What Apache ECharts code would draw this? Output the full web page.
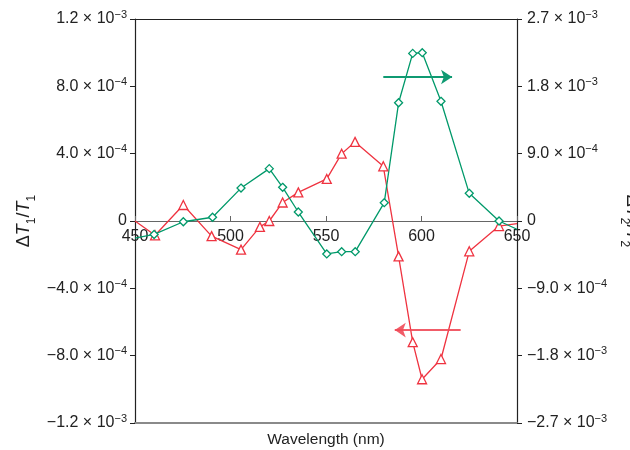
<!DOCTYPE html>
<html>
<head>
<meta charset="utf-8">
<script src="https://cdn.jsdelivr.net/npm/echarts@6/dist/echarts.min.js"></script>
<style>html,body{margin:0;padding:0;background:#fff}#c{width:630px;height:450px}</style>
</head>
<body>
<div id="c"></div>
<script>
// ---- data ----
var redX = [450, 460.5, 475.3, 490.1, 505.5, 515.4, 520.3, 527.3, 535.5, 550.4, 558.2, 565.2, 580, 588, 595.4, 600.3, 610.2, 625, 640.6, 650];
var redY = [0, -0.85e-4, 0.95e-4, -0.9e-4, -1.7e-4, -0.35e-4, 0, 1.1e-4, 1.7e-4, 2.5e-4, 4.0e-4, 4.7e-4, 3.25e-4, -2.1e-4, -7.2e-4, -9.4e-4, -8.2e-4, -1.8e-4, -0.3e-4, -0.15e-4];
var greenX = [450, 460, 475.3, 490.6, 505.5, 520.3, 527.3, 535.5, 550.4, 558.2, 565.3, 580.5, 588, 595.4, 600.4, 610.2, 625, 640.6, 650];
var greenY = [-2.3e-4, -1.8e-4, -0.1e-4, 0.5e-4, 4.4e-4, 7.0e-4, 4.5e-4, 1.2e-4, -4.4e-4, -4.1e-4, -4.1e-4, 2.45e-4, 15.8e-4, 22.4e-4, 22.5e-4, 16.0e-4, 3.7e-4, 0, -1.1e-4];
var redArrow = [[620.5, -6.48e-4], [586, -6.48e-4]];
var greenArrow = [[580, 19.25e-4], [616, 19.25e-4]];
var leftTickLabels = ['\u22121.2 \u00d7 10^\u22123', '\u22128.0 \u00d7 10^\u22124', '\u22124.0 \u00d7 10^\u22124', '0', '4.0 \u00d7 10^\u22124', '8.0 \u00d7 10^\u22124', '1.2 \u00d7 10^\u22123'];
var rightTickLabels = ['\u22122.7 \u00d7 10^\u22123', '\u22121.8 \u00d7 10^\u22123', '\u22129.0 \u00d7 10^\u22124', '0', '9.0 \u00d7 10^\u22124', '1.8 \u00d7 10^\u22123', '2.7 \u00d7 10^\u22123'];
var xTickLabels = ['450', '500', '550', '600', '650'];

// ---- styling ----
var FONT = '"Liberation Sans", Arial, sans-serif';
var NARROW = '"Liberation Sans Narrow", "Liberation Sans", Arial, sans-serif';
var RED = '#ef3340';
var GREEN = '#00996a';
var W = 630, H = 450;
var GRID = { left: 135, right: 113, top: 19, bottom: 27 };
var LMIN = -1.2e-3, LMAX = 1.2e-3;
// offset that lifts the labelled x axis from the grid bottom to the y = 0 line
var gridH = H - GRID.top - GRID.bottom;
var zeroOffset = -gridH * (0 - LMIN) / (LMAX - LMIN);

var rich = {
  b: { fontSize: 16, lineHeight: 20, fontFamily: FONT, color: '#222' },
  s: { fontSize: 11, lineHeight: 11, fontFamily: FONT, color: '#222', verticalAlign: 'top' }
};
function toRich(t) {
  var p = t.split('^');
  return p.length > 1 ? '{b|' + p[0] + '}{s|' + p[1] + '}' : '{b|' + p[0] + '}';
}
function tickFmt(labels, min, interval) {
  return function (v) {
    var i = Math.round((v - min) / interval);
    return labels[i] !== undefined ? toRich(labels[i]) : '';
  };
}
function buildData(xs, ys) {
  return xs.map(function (x, i) {
    var item = { value: [x, ys[i]] };
    if (x <= 450 || x >= 650) item.symbol = 'none';
    return item;
  });
}
var nameRich = {
  d: { fontSize: 18, fontFamily: FONT, color: '#222' },
  i: { fontSize: 18, fontFamily: FONT, fontStyle: 'italic', color: '#222' },
  s: { fontSize: 12, fontFamily: FONT, color: '#222', verticalAlign: 'bottom', lineHeight: 28 }
};

var chart = echarts.init(document.getElementById('c'), null, { renderer: 'canvas' });
chart.setOption({
  animation: false,
  backgroundColor: '#fff',
  grid: { left: GRID.left, right: GRID.right, top: GRID.top, bottom: GRID.bottom, containLabel: false, outerBoundsMode: 'none' },
  xAxis: [
    {
      type: 'value', position: 'bottom', offset: zeroOffset, min: 450, max: 650, interval: 50,
      axisLine: { onZero: false, lineStyle: { color: '#666', width: 1.2 } },
      axisTick: { inside: true, length: 5, lineStyle: { color: '#666' } },
      axisLabel: {
        margin: 8, fontSize: 16, fontFamily: FONT, color: '#222',
        formatter: function (v) { var i = Math.round((v - 450) / 50); return xTickLabels[i] || ''; }
      },
      splitLine: { show: false }
    },
    {
      type: 'value', position: 'bottom', min: 450, max: 650,
      axisLine: { onZero: false, lineStyle: { color: '#8a8a8a', width: 2 } },
      axisTick: { show: false }, axisLabel: { show: false }, splitLine: { show: false },
      name: 'Wavelength (nm)', nameLocation: 'middle', nameGap: 9,
      nameTextStyle: { fontSize: 15.5, fontFamily: NARROW, color: '#222' }
    },
    {
      type: 'value', position: 'top', min: 450, max: 650,
      axisLine: { onZero: false, lineStyle: { color: '#222', width: 1.2 } },
      axisTick: { show: false }, axisLabel: { show: false }, splitLine: { show: false }
    }
  ],
  yAxis: [
    {
      type: 'value', position: 'left', min: LMIN, max: LMAX, interval: 4e-4,
      axisLine: { show: true, onZero: false, lineStyle: { color: '#222', width: 1.2 } },
      axisTick: { show: true, inside: false, length: 5, lineStyle: { color: '#222' } },
      axisLabel: { margin: 8, rich: rich, formatter: tickFmt(leftTickLabels, LMIN, 4e-4) },
      splitLine: { show: false },
      name: '{d|\u0394}{i|T}{s|1}{d|/}{i|T}{s|1}', nameLocation: 'middle', nameGap: 97, nameMoveOverlap: false,
      nameTextStyle: { rich: nameRich }
    },
    {
      type: 'value', position: 'right', min: -2.7e-3, max: 2.7e-3, interval: 9e-4,
      axisLine: { show: true, onZero: false, lineStyle: { color: '#222', width: 1.2 } },
      axisTick: { show: true, inside: false, length: 5, lineStyle: { color: '#222' } },
      axisLabel: { margin: 10, rich: rich, formatter: tickFmt(rightTickLabels, -2.7e-3, 9e-4) },
      splitLine: { show: false },
      name: '{d|\u0394}{i|T}{s|2}{d|/}{i|T}{s|2}', nameLocation: 'middle', nameGap: 100, nameRotate: -90,
      nameTextStyle: { rich: nameRich }
    }
  ],
  series: [
    {
      type: 'line', xAxisIndex: 0, yAxisIndex: 0, z: 3,
      data: buildData(redX, redY),
      symbol: 'triangle', symbolSize: 9, showAllSymbol: true,
      lineStyle: { color: RED, width: 1.3 },
      itemStyle: { color: '#fff', borderColor: RED, borderWidth: 1.3 },
      markLine: {
        silent: true, symbol: ['none', 'arrow'], symbolSize: 11,
        label: { show: false },
        itemStyle: { color: '#f04a58' },
        lineStyle: { color: '#f04a58', width: 2, type: 'solid', opacity: 0.9 },
        data: [[{ coord: redArrow[0] }, { coord: redArrow[1] }]]
      }
    },
    {
      type: 'line', xAxisIndex: 0, yAxisIndex: 1, z: 3,
      data: buildData(greenX, greenY),
      symbol: 'diamond', symbolSize: 8, showAllSymbol: true,
      lineStyle: { color: GREEN, width: 1.3 },
      itemStyle: { color: '#fff', borderColor: GREEN, borderWidth: 1.3 },
      markLine: {
        silent: true, symbol: ['none', 'arrow'], symbolSize: 11,
        label: { show: false },
        itemStyle: { color: '#0f9a72' },
        lineStyle: { color: '#0f9a72', width: 2, type: 'solid' },
        data: [[{ coord: greenArrow[0] }, { coord: greenArrow[1] }]]
      }
    }
  ]
});
</script>
</body>
</html>
